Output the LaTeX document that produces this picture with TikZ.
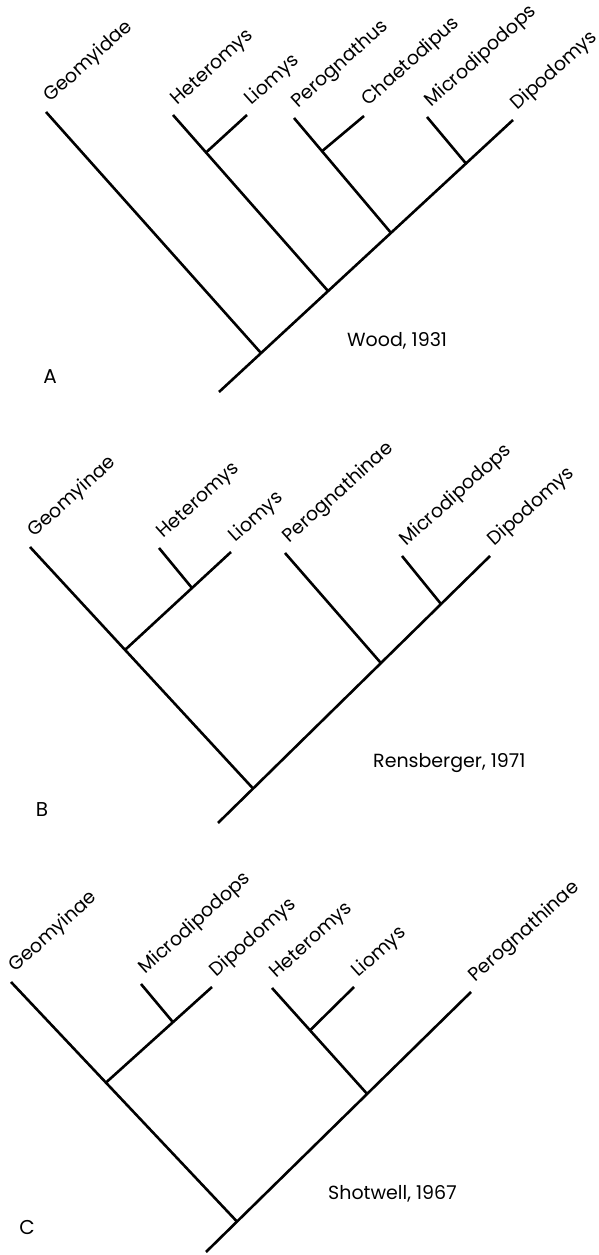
\documentclass[tikz,border=0pt]{standalone}
\usepackage{fontspec}
\setmainfont{Poppins}
\usetikzlibrary{calc}

\begin{document}
\begin{tikzpicture}[
    x=1pt, y=1pt,
    branch/.style={line width=2.6pt},
    taxon/.style={rotate=42, anchor=base west, inner sep=0pt, font=\fontsize{19}{22}\selectfont},
    source/.style={anchor=base west, inner sep=0pt, font=\fontsize{19}{22}\selectfont},
    panel/.style={inner sep=0pt, font=\fontsize{20}{24}\selectfont}
]
    \useasboundingbox (0,0) rectangle (599,1255);

    % Panel A - Wood, 1931
    \coordinate (rootA) at (219,863);
    \coordinate (dipoA) at (513,1135);
    \coordinate (geoA) at (46,1143);
    \coordinate (hetA) at (173,1140);
    \coordinate (lioA) at (247,1140);
    \coordinate (pergA) at (294,1137);
    \coordinate (chaeA) at (364,1139);
    \coordinate (micA) at (427,1138);
    \coordinate (nA1) at ($(rootA)!0.143!(dipoA)$);
    \coordinate (nA2) at ($(rootA)!0.371!(dipoA)$);
    \coordinate (nA3) at ($(rootA)!0.585!(dipoA)$);
    \coordinate (nA4) at ($(rootA)!0.840!(dipoA)$);
    \coordinate (hlA) at ($(hetA)!0.213!(nA2)$);
    \coordinate (pcA) at ($(pergA)!0.289!(nA3)$);

    \draw[branch] (rootA) -- (dipoA);
    \draw[branch] (geoA) -- (nA1);
    \draw[branch] (hetA) -- (nA2);
    \draw[branch] (lioA) -- (hlA);
    \draw[branch] (pergA) -- (nA3);
    \draw[branch] (chaeA) -- (pcA);
    \draw[branch] (micA) -- (nA4);

    \node[taxon] (tGeoA) at ($(geoA)+(4.5,9)$) {Geomyidae};
    \node[taxon] (tHetA) at ($(hetA)+(4.5,9)$) {Heteromys};
    \node[taxon] (tLioA) at ($(lioA)+(4.5,9)$) {Liomys};
    \node[taxon] (tPergA) at ($(pergA)+(4.5,9)$) {Perognathus};
    \node[taxon] (tChaeA) at ($(chaeA)+(4.5,9)$) {Chaetodipus};
    \node[taxon] (tMicA) at ($(micA)+(4.5,9)$) {Microdipodops};
    \node[taxon] (tDipoA) at ($(dipoA)+(4.5,9)$) {Dipodomys};
    \node[source] (srcA) at (347,908) {Wood, 1931};
    \node[panel] (labA) at (50,878) {A};

    % Panel B - Rensberger, 1971
    \coordinate (rootB) at (218,432);
    \coordinate (dipoB) at (490,699);
    \coordinate (geoB) at (30,708);
    \coordinate (hetB) at (159,707);
    \coordinate (lioB) at (231,703);
    \coordinate (pergB) at (285,702);
    \coordinate (micB) at (402,699);
    \coordinate (nB1) at ($(rootB)!0.129!(dipoB)$);
    \coordinate (nB2) at ($(rootB)!0.599!(dipoB)$);
    \coordinate (nB3) at ($(rootB)!0.820!(dipoB)$);
    \coordinate (cladeB) at ($(geoB)!0.426!(nB1)$);
    \coordinate (hlB) at ($(lioB)!0.368!(cladeB)$);

    \draw[branch] (rootB) -- (dipoB);
    \draw[branch] (geoB) -- (nB1);
    \draw[branch] (lioB) -- (cladeB);
    \draw[branch] (hetB) -- (hlB);
    \draw[branch] (pergB) -- (nB2);
    \draw[branch] (micB) -- (nB3);

    \node[taxon] (tGeoB) at ($(geoB)+(4.5,9)$) {Geomyinae};
    \node[taxon] (tHetB) at ($(hetB)+(4.5,9)$) {Heteromys};
    \node[taxon] (tLioB) at ($(lioB)+(4.5,9)$) {Liomys};
    \node[taxon] (tPergB) at ($(pergB)+(4.5,9)$) {Perognathinae};
    \node[taxon] (tMicB) at ($(micB)+(4.5,9)$) {Microdipodops};
    \node[taxon] (tDipoB) at ($(dipoB)+(4.5,9)$) {Dipodomys};
    \node[source] (srcB) at (373,487) {Rensberger, 1971};
    \node[panel] (labB) at (42,445) {B};

    % Panel C - Shotwell, 1967
    \coordinate (rootC) at (206,3);
    \coordinate (pergC) at (471,263);
    \coordinate (geoC) at (11,273);
    \coordinate (micC) at (141,271);
    \coordinate (dipoC) at (212,268);
    \coordinate (hetC) at (272,267);
    \coordinate (lioC) at (354,268);
    \coordinate (nC1) at ($(rootC)!0.117!(pergC)$);
    \coordinate (nC2) at ($(rootC)!0.608!(pergC)$);
    \coordinate (cladeC) at ($(geoC)!0.420!(nC1)$);
    \coordinate (mdC) at ($(dipoC)!0.368!(cladeC)$);
    \coordinate (hlC) at ($(hetC)!0.4!(nC2)$);

    \draw[branch] (rootC) -- (pergC);
    \draw[branch] (geoC) -- (nC1);
    \draw[branch] (dipoC) -- (cladeC);
    \draw[branch] (micC) -- (mdC);
    \draw[branch] (hetC) -- (nC2);
    \draw[branch] (lioC) -- (hlC);

    \node[taxon] (tGeoC) at ($(geoC)+(4.5,9)$) {Geomyinae};
    \node[taxon] (tMicC) at ($(micC)+(4.5,9)$) {Microdipodops};
    \node[taxon] (tDipoC) at ($(dipoC)+(4.5,9)$) {Dipodomys};
    \node[taxon] (tHetC) at ($(hetC)+(4.5,9)$) {Heteromys};
    \node[taxon] (tLioC) at ($(lioC)+(4.5,9)$) {Liomys};
    \node[taxon] (tPergC) at ($(pergC)+(4.5,9)$) {Perognathinae};
    \node[source] (srcC) at (328,55) {Shotwell, 1967};
    \node[panel] (labC) at (27,27) {C};

\end{tikzpicture}
\end{document}
